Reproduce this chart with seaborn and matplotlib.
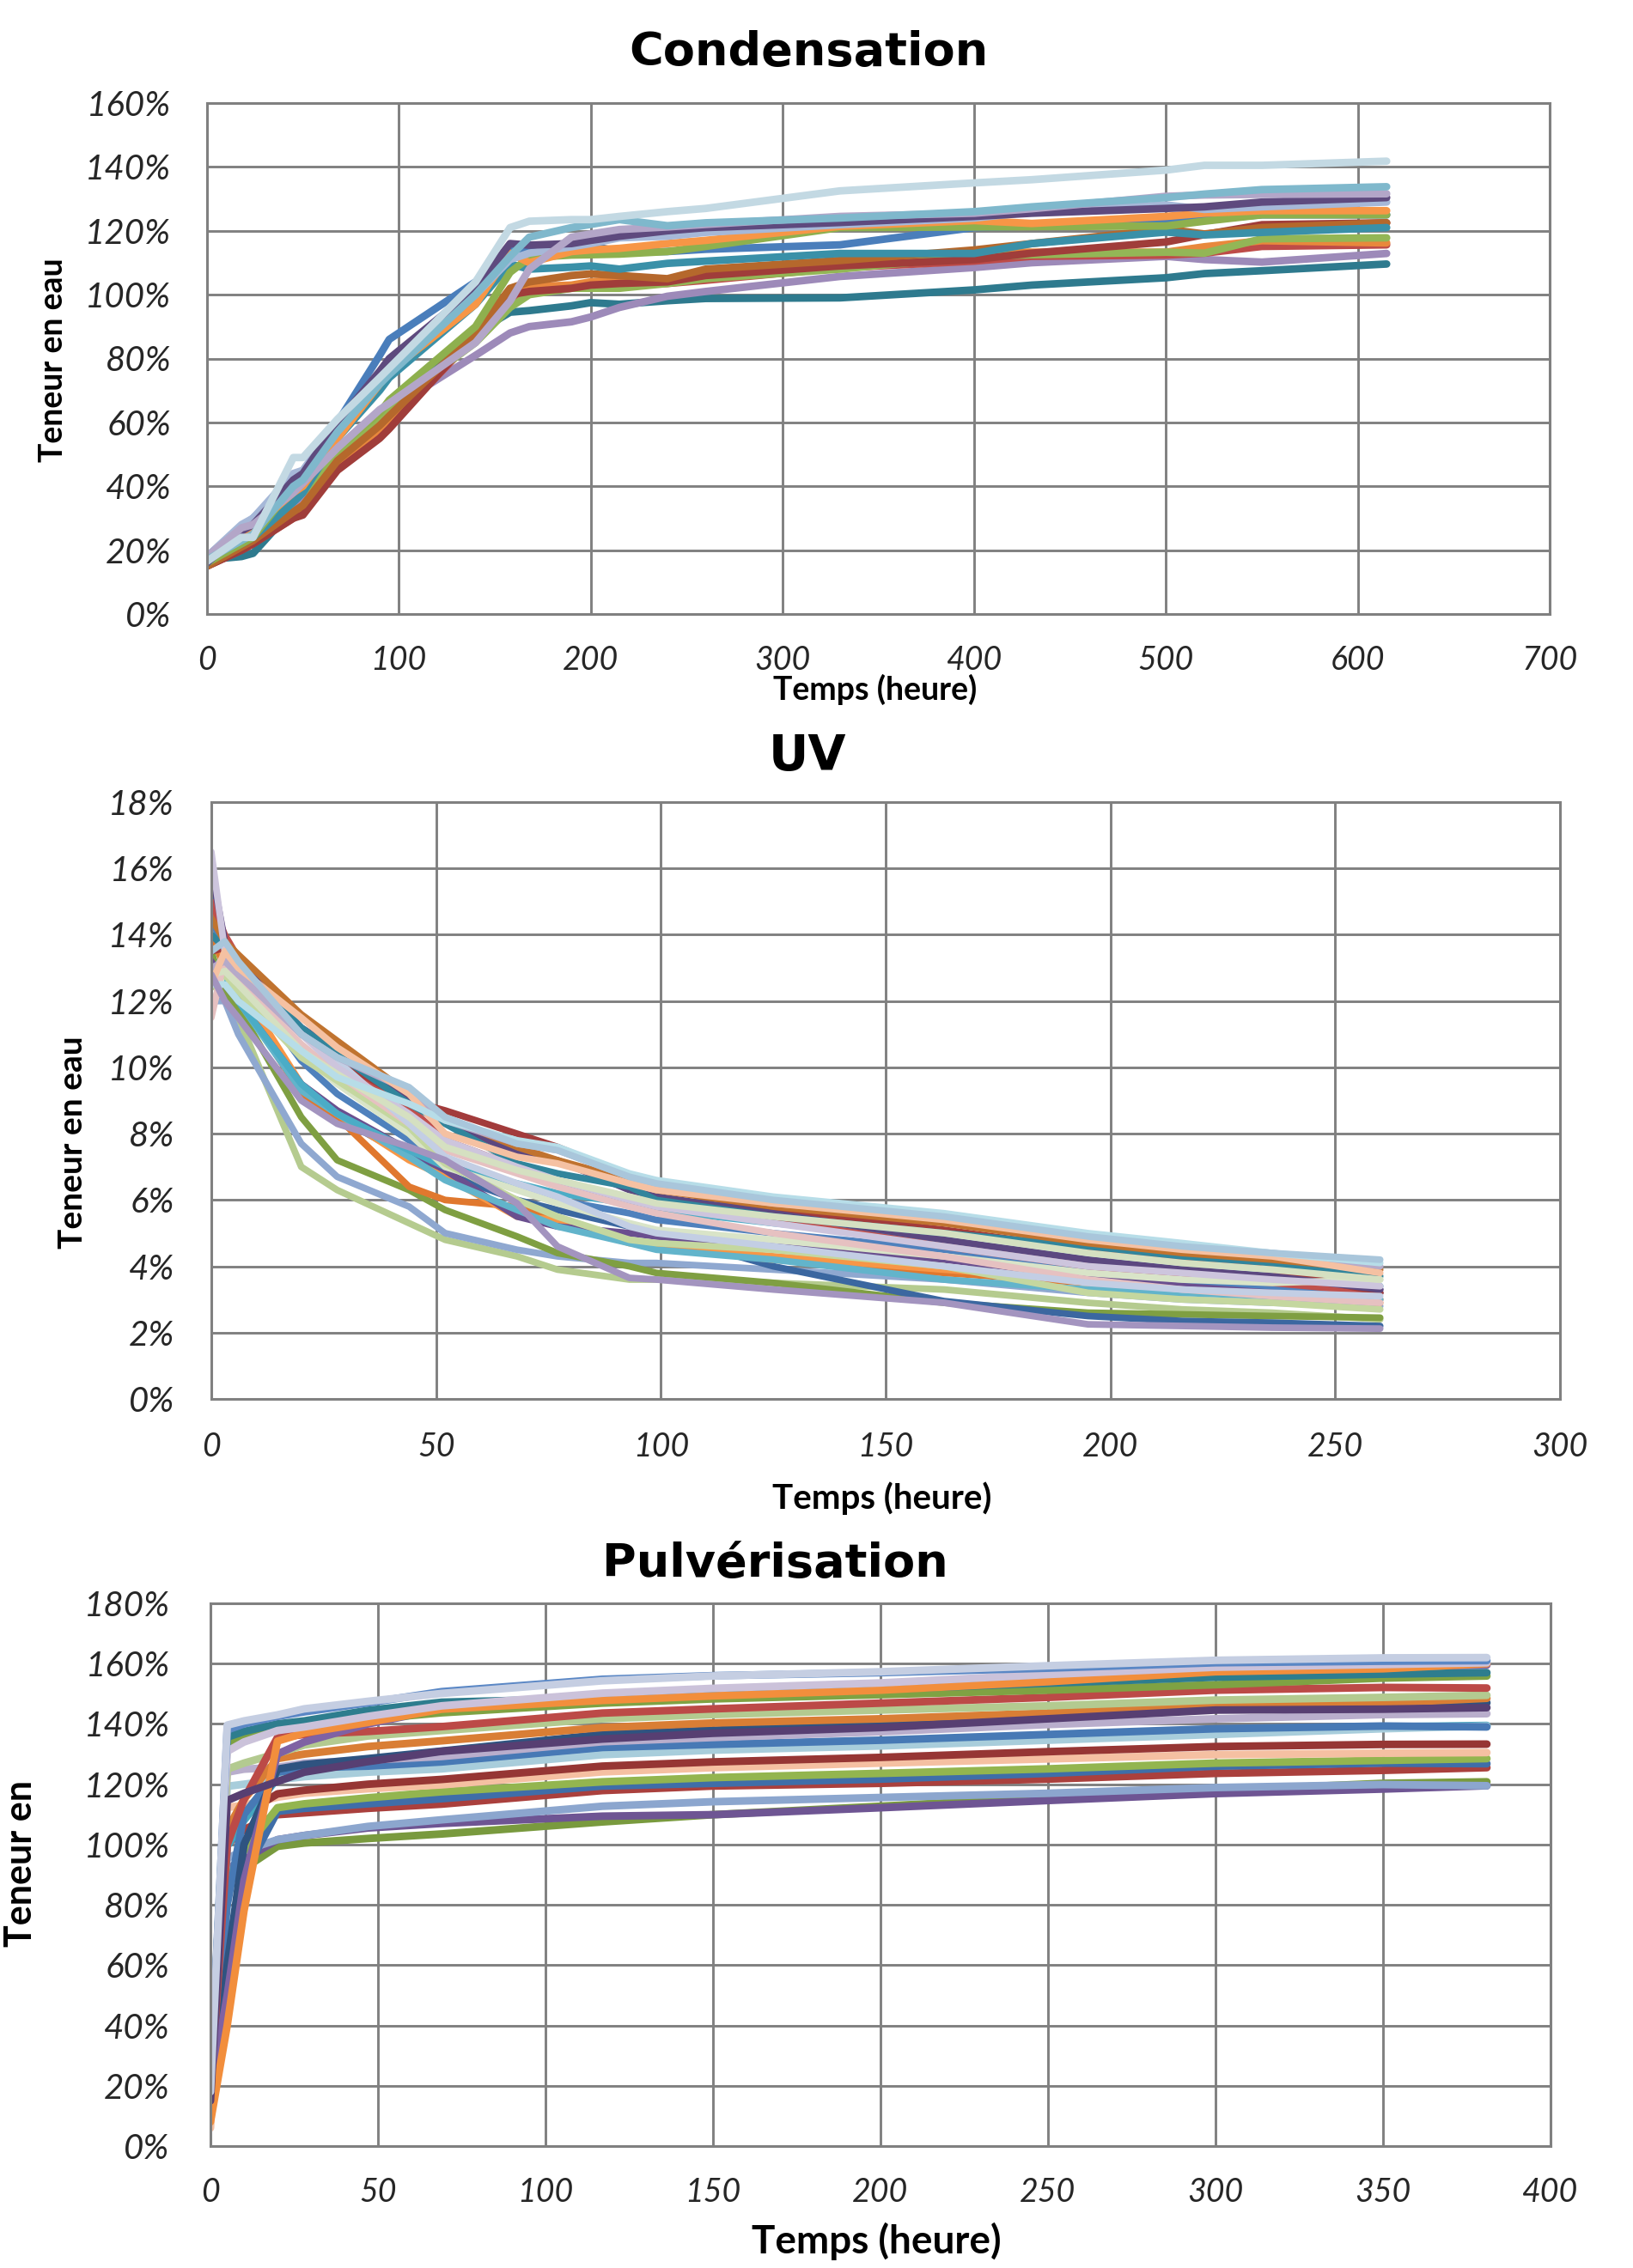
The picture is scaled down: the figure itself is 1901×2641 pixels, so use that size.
import matplotlib
matplotlib.use("Agg")
import matplotlib.pyplot as plt
import seaborn as sns
import pandas as pd

# ---------------- Condensation ----------------
cond_time = [0, 18, 24, 45, 50, 68, 90, 95, 140, 158, 168, 190, 200, 215, 240, 260, 330, 400, 430, 500, 520, 550, 615]
c_blue = [18, 27, 30, 42, 44, 60, 81, 86, 104, 114.7, 114, 114, 115.5, 113.3, 113.5, 114.2, 115.6, 121, 121.5, 122.6, 123.5, 125, 125]
c_darkteal = [17, 18, 19, 33, 36, 50, 62, 65, 88, 94.5, 95, 96.5, 97.5, 97, 98.1, 98.8, 99, 101.5, 103, 105.3, 106.6, 107.5, 109.6]
c_purple = [18, 26, 28, 34, 37, 50, 62, 64, 81, 88, 90, 91.5, 93, 96, 99.5, 101, 105.7, 108.5, 110, 112, 111, 110.2, 112.9]
c_red = [15, 20, 22, 30, 32, 46, 56, 59, 87, 99, 101, 102, 102.5, 103, 103.5, 104.5, 108.4, 110.5, 112, 112.4, 113, 115.1, 115.6]
c_orange2 = [15, 21, 23, 32, 34, 47, 58, 61, 87, 101, 102.5, 103, 104, 104.4, 104, 106, 110.7, 113.3, 113.3, 113.3, 115, 116.9, 116.2]
c_green2 = [16, 22, 25, 36, 38, 50, 62, 65, 85, 96, 100, 102, 102, 102, 103.5, 105, 108, 112, 112.5, 113.3, 113, 117.5, 117.8]
c_darkred = [15, 20, 22, 30, 31, 45, 55, 58, 88, 100, 101, 102, 103, 103.5, 104, 106, 109, 111, 113, 116.5, 118.8, 121.9, 122.5]
c_brown = [15, 21, 23, 32, 34, 48, 59, 62, 88, 102, 104, 106, 106.5, 106, 105, 108, 110.7, 114, 116, 120.5, 119, 121, 122.5]
c_teal = [17, 22, 24, 35, 38, 55, 70, 74, 97, 109.6, 108, 108.6, 109, 108, 109.8, 110.5, 112.9, 112.9, 116, 119.6, 118.7, 119.5, 121]
c_green = [16, 22, 24, 40, 43, 52, 63, 67, 90, 107, 111.6, 112.4, 112.5, 112.7, 113.5, 115.1, 121, 121.2, 121.3, 121.5, 123, 125, 125]
c_orange = [17, 24, 27, 38, 40, 55, 72, 76, 97, 113, 110, 113.5, 114, 114.5, 116, 117, 121.4, 123.2, 122.3, 124.5, 125.5, 126.3, 126.3]
c_paleblue = [18, 28, 30, 44, 45, 60, 74, 78, 100, 111, 113, 115, 116, 117.8, 118.3, 119.5, 121.9, 124, 125.9, 128.1, 126.7, 127.5, 129]
c_darkpurple = [16, 26, 28, 42, 44, 60, 76, 80, 102, 116, 115.5, 116, 117, 118.3, 120, 121, 122.6, 124.5, 125.5, 127, 127.5, 129, 130.4]
c_lavender = [18, 27, 28, 38, 41, 52, 64, 66, 85, 98, 108, 118, 119, 120.4, 121.2, 122, 124.5, 125.5, 126.9, 130.8, 131.2, 131.4, 131.6]
c_aqua = [17, 23, 25, 40, 42, 57, 72, 75, 100, 112, 118, 121, 122, 123.5, 121.6, 122.5, 124, 126, 127.5, 130.4, 131.5, 132.9, 133.8]
c_lightblue = [16.5, 24, 24, 49, 49, 61, 74, 77, 104, 121, 123, 123.5, 123.5, 124.5, 126, 127, 132.5, 135, 136, 139, 140.5, 140.5, 141.8]
cond_colors = ["#4A7EBB", "#2E7A8E", "#9D8AB9", "#BE4B48", "#E8883C", "#93B656", "#A03D3A", "#B5682C",
               "#3A90A8", "#8EB04E", "#F79646", "#A6B8D8", "#5E4A7E", "#B3A6C8", "#7FB8CC", "#C3D9E3"]
cond_xticks = [0, 100, 200, 300, 400, 500, 600, 700]
cond_yticks = [0, 20, 40, 60, 80, 100, 120, 140, 160]

# ---------------- UV ----------------
uv_time = [0, 3, 6, 20, 28, 44, 52, 68, 77, 93, 99, 125, 163, 195, 216, 236, 260]
u_lightgreen = [12.5, 12.2, 11.5, 7.0, 6.3, 5.3, 4.8, 4.3, 3.9, 3.6, 3.6, 3.5, 3.3, 2.9, 2.7, 2.6, 2.4]
u_bluegray = [12.0, 12.0, 11.0, 7.7, 6.7, 5.8, 5.0, 4.5, 4.3, 4.1, 4.1, 3.9, 3.6, 3.2, 3.0, 2.9, 2.8]
u_green = [13.5, 12.2, 11.8, 8.5, 7.2, 6.3, 5.7, 4.9, 4.4, 4.0, 3.8, 3.5, 2.9, 2.6, 2.55, 2.5, 2.45]
u_darkblue = [15.5, 13.0, 12.2, 9.3, 8.5, 7.3, 6.8, 6.0, 5.7, 5.2, 5.0, 4.0, 2.95, 2.5, 2.35, 2.3, 2.2]
u_darkorange = [14.0, 13.0, 12.2, 9.2, 8.5, 6.4, 6.0, 5.8, 5.4, 4.8, 4.6, 4.2, 3.8, 3.5, 3.3, 3.1, 3.0]
u_orange = [14.8, 13.2, 12.5, 9.5, 8.6, 7.2, 6.7, 5.5, 5.4, 4.7, 4.6, 4.3, 3.9, 3.6, 3.5, 3.2, 2.9]
u_purple = [13.2, 12.5, 12.0, 9.5, 8.7, 7.5, 6.9, 5.5, 5.2, 5.0, 4.9, 4.6, 4.2, 3.7, 3.4, 3.3, 3.3]
u_midaqua = [12.5, 12.6, 12.0, 9.3, 8.6, 7.3, 6.6, 5.7, 5.2, 4.7, 4.5, 4.2, 3.6, 3.3, 3.2, 3.1, 3.0]
u_blue = [14.5, 13.5, 12.8, 10.2, 9.2, 7.8, 7.2, 6.4, 6.0, 5.6, 5.4, 5.0, 4.5, 3.9, 3.6, 3.4, 3.2]
u_aqua = [13.0, 12.8, 12.0, 9.5, 8.6, 7.5, 7.0, 6.5, 6.2, 5.9, 5.7, 5.3, 4.8, 4.2, 3.9, 3.7, 3.4]
u_red = [15.0, 14.0, 13.3, 11.0, 10.2, 8.8, 7.8, 7.0, 6.5, 6.0, 5.8, 5.4, 4.6, 4.0, 3.7, 3.5, 3.2]
u_darkred = [13.5, 13.6, 13.0, 11.0, 10.2, 9.0, 8.7, 8.0, 7.6, 6.7, 6.4, 5.7, 5.1, 4.5, 4.2, 3.9, 3.2]
u_darkpurple = [16.0, 13.8, 13.2, 11.2, 10.5, 9.1, 8.4, 7.4, 7.2, 6.3, 6.1, 5.6, 4.8, 4.2, 3.9, 3.7, 3.3]
u_teal = [14.0, 13.6, 13.1, 11.2, 10.4, 8.9, 8.3, 7.1, 6.8, 6.4, 6.0, 5.5, 5.0, 4.6, 4.3, 4.1, 3.7]
u_brown = [14.5, 13.8, 13.4, 11.6, 10.8, 9.2, 8.5, 7.6, 7.2, 6.6, 6.3, 5.8, 5.3, 4.7, 4.4, 4.2, 3.9]
u_palegreen2 = [11.7, 13.0, 12.7, 10.4, 9.5, 8.0, 7.0, 6.3, 5.9, 5.3, 5.1, 4.8, 4.3, 3.8, 3.6, 3.5, 3.6]
u_midgreen = [12.5, 12.8, 12.3, 10.3, 9.6, 8.2, 7.1, 6.0, 5.5, 4.8, 4.7, 4.5, 4.0, 3.2, 3.0, 2.9, 2.7]
u_palepink = [11.5, 13.3, 12.6, 10.7, 9.8, 8.3, 7.5, 6.8, 6.4, 5.8, 5.6, 5.0, 4.3, 3.6, 3.3, 3.1, 2.9]
u_paleblue = [12.8, 13.4, 13.0, 11.0, 10.2, 8.3, 7.3, 6.5, 6.1, 5.2, 5.0, 4.6, 4.0, 3.5, 3.3, 3.2, 3.1]
u_palelavender = [16.5, 13.5, 12.9, 11.0, 10.0, 8.6, 7.8, 7.0, 6.6, 6.0, 5.8, 5.3, 4.6, 4.0, 3.8, 3.6, 3.4]
u_palegreen = [12.8, 12.9, 12.5, 10.5, 9.8, 8.5, 7.6, 6.9, 6.6, 6.1, 5.9, 5.5, 5.0, 4.4, 4.1, 3.9, 3.6]
u_lavender = [13.0, 13.2, 12.8, 11.0, 10.3, 9.3, 8.4, 7.7, 7.5, 6.7, 6.4, 5.9, 5.5, 4.9, 4.6, 4.4, 4.0]
u_peach = [12.5, 13.5, 13.0, 11.5, 10.6, 9.2, 8.0, 7.3, 7.1, 6.5, 6.3, 5.9, 5.4, 4.8, 4.5, 4.3, 3.8]
u_paleaqua = [12.5, 12.5, 12.0, 10.5, 9.7, 8.9, 8.4, 7.8, 7.6, 6.8, 6.6, 6.1, 5.6, 5.0, 4.7, 4.4, 4.1]
u_lightblue = [13.5, 13.8, 13.2, 11.0, 10.3, 9.4, 8.5, 7.7, 7.5, 6.7, 6.5, 6.0, 5.5, 4.9, 4.6, 4.4, 4.2]
u_lightpurple = [12.8, 12.0, 11.5, 9.0, 8.3, 7.6, 7.2, 5.9, 4.6, 3.65, 3.6, 3.3, 2.9, 2.25, 2.2, 2.15, 2.12]
uv_colors = ["#B5CB8F", "#8FA8D0", "#7F9F42", "#3B67A0", "#E0782E", "#F79646", "#6A4F8F", "#62B4CB",
             "#4F81BD", "#4BACC6", "#C0504D", "#A23B3B", "#5C4880", "#31859C", "#C0732F", "#D9E4C8",
             "#C4D79F", "#E6C1C1", "#C3CEE4", "#CDC5DD", "#D5E0C1", "#B5AAC9", "#F5C1A2", "#B7DDE8",
             "#A9C6DB", "#A394BF"]
uv_xticks = [0, 50, 100, 150, 200, 250, 300]
uv_yticks = [0, 2, 4, 6, 8, 10, 12, 14, 16, 18]

# ---------------- Pulvérisation ----------------
pulv_time = [0, 5, 10, 20, 28, 47, 69, 117, 150, 200, 250, 300, 350, 381]
p_olive = [18, 87.8, 92, 99.4, 100.5, 102, 103.5, 107.5, 109.9, 112.7, 115.6, 117.9, 120.3, 120.8]
p_purple = [18, 91.9, 95, 101.6, 103, 105.5, 107, 109.4, 109.9, 112.2, 114.6, 116.9, 118.4, 119.5]
p_bluegray = [18, 95.4, 98, 101.6, 103, 106, 108.2, 112.7, 114.2, 115.6, 117, 118.9, 119.9, 119.5]
p_red2 = [18, 100, 105, 109.9, 110.5, 112, 113.4, 117.9, 119.4, 120.3, 121.7, 123.6, 124.6, 125.5]
p_blue2 = [18, 65, 90, 111, 112, 113.5, 115.2, 119.4, 120.3, 121.7, 123.6, 126, 127, 126.8]
p_green2 = [18, 88, 98, 112.2, 113.5, 115.5, 117.5, 120.8, 122.2, 123.6, 125.1, 127, 127.9, 128.5]
p_peach = [6, 112.3, 113, 115.7, 117, 118.5, 119.8, 124.1, 125.5, 127, 128.4, 129.8, 130.3, 130.5]
p_darkred = [18, 106, 110, 116.8, 118, 120, 121.6, 126, 127.4, 128.9, 130.8, 132.5, 133.2, 133.3]
p_aqua = [18, 99.4, 108, 122, 123, 124.5, 126, 130.5, 132, 133.5, 135.5, 137.5, 139, 139.5]
p_lightblue = [20, 119.3, 120, 121.5, 122.5, 124, 125.1, 129.8, 131.3, 132.7, 134.6, 136.5, 138.4, 139.3]
p_blue = [18, 80, 110, 124, 125.5, 126, 127.4, 132.2, 133.2, 134.6, 136.5, 138.4, 139.3, 139]
p_palelav2 = [22, 124, 125, 125.6, 127, 128, 129.2, 134.1, 135.5, 137.4, 139.8, 141.7, 143.1, 143.4]
p_darkslate = [18, 60, 100, 125, 126.5, 128.5, 131, 136.5, 137.9, 139.8, 142.6, 145.5, 146.2, 147]
p_orange2 = [18, 105, 115, 128.5, 130, 132.5, 134.4, 138.8, 140.3, 141.7, 143.6, 146, 146.9, 148.5]
p_lightgreen = [20, 125, 127, 130.2, 133, 136, 137.8, 141.7, 143.1, 144.6, 146, 147.9, 148.8, 149.5]
p_red = [18, 100, 115, 135.5, 136.5, 137.5, 139.1, 143.6, 145, 146.9, 148.8, 151.2, 152.1, 151.9]
p_purple2 = [18, 50, 88, 130, 134, 140, 145, 149, 151, 153, 155.5, 158, 159, 159.5]
p_green = [20, 133.8, 135.5, 138.4, 139.5, 141.5, 143.7, 146.9, 148.3, 149.7, 151.2, 153, 155.2, 155.9]
p_teal = [18, 135.6, 137.5, 140, 141, 144.5, 147.2, 148.5, 149.5, 151.5, 153.5, 155.5, 156.5, 157]
p_orange = [8, 40, 78, 134.3, 137, 140.5, 144.9, 147.8, 149.3, 151.2, 154, 157.3, 158.3, 160]
p_palelav = [22, 130.9, 134, 137.8, 139, 142.5, 146, 150.2, 151.8, 153.6, 156.4, 158.8, 159.7, 160.3]
p_bluetop = [20, 138, 140, 142.5, 144, 147, 150.7, 154.8, 156, 157, 158.5, 160.3, 160.8, 161]
p_darkpurple = [15, 114.6, 117, 120.9, 124, 127.5, 130.9, 135, 136.9, 138.8, 141.7, 144.6, 144.9, 145.4]
p_bluegraytop = [18, 139.6, 141, 143, 145, 147.5, 150.1, 154.3, 155.9, 157.3, 159.3, 161.1, 161.9, 162]
pulv_colors = ["#799A3E", "#6E5593", "#8CA6CE", "#AA403D", "#3F6EA8", "#93B54F", "#F5C0A2", "#963634",
               "#46A5BF", "#A8CDDB", "#4779B5", "#B9AECC", "#2F5380", "#D97E35", "#B3CA90", "#BC4A47",
               "#7F62A3", "#7FA243", "#2E7D8E", "#F28E3C", "#CBC2DA", "#5A87C5", "#573F72", "#C5CEE2"]
pulv_xticks = [0, 50, 100, 150, 200, 250, 300, 350, 400]
pulv_yticks = [0, 20, 40, 60, 80, 100, 120, 140, 160, 180]

cond_series = [c_blue, c_darkteal, c_purple, c_red, c_orange2, c_green2, c_darkred, c_brown, c_teal,
               c_green, c_orange, c_paleblue, c_darkpurple, c_lavender, c_aqua, c_lightblue]
uv_series = [u_lightgreen, u_bluegray, u_green, u_darkblue, u_darkorange, u_orange, u_purple, u_midaqua,
             u_blue, u_aqua, u_red, u_darkred, u_darkpurple, u_teal, u_brown, u_palegreen2, u_midgreen,
             u_palepink, u_paleblue, u_palelavender, u_palegreen, u_lavender, u_peach, u_paleaqua,
             u_lightblue, u_lightpurple]
pulv_series = [p_olive, p_purple, p_bluegray, p_red2, p_blue2, p_green2, p_peach, p_darkred, p_aqua,
               p_lightblue, p_blue, p_palelav2, p_darkslate, p_orange2, p_lightgreen, p_red, p_purple2,
               p_green, p_teal, p_orange, p_palelav, p_bluetop, p_darkpurple, p_bluegraytop]

# ---------------- figure ----------------
sns.set_theme(style="white")
plt.rcParams["font.family"] = ["DejaVu Sans"]
W, H = 1901, 2641
fig = plt.figure(figsize=(W / 100, H / 100), dpi=100)
fig.patch.set_facecolor("white")
GRID = "#808080"


def make_axes(l, r, t, b):
    return fig.add_axes([l / W, 1 - b / H, (r - l) / W, (b - t) / H])


def panel(ax, times, series, colors, lw, xticks, yticks, ypad, xpad):
    rows = []
    names = []
    for i, vals in enumerate(series):
        name = f"s{i:02d}"
        names.append(name)
        for tt, vv in zip(times, vals):
            rows.append((name, tt, vv))
    df = pd.DataFrame(rows, columns=["serie", "t", "v"])
    sns.lineplot(data=df, x="t", y="v", hue="serie", hue_order=names,
                 palette=dict(zip(names, colors)), estimator=None, legend=False,
                 lw=lw, ax=ax, solid_capstyle="round", solid_joinstyle="round")
    for ln in ax.get_lines():
        ln.set_linewidth(lw)
    ax.set_xlim(xticks[0], xticks[-1])
    ax.set_ylim(yticks[0], yticks[-1])
    ax.set_xticks(xticks)
    ax.set_yticks(yticks)
    ax.set_xticklabels([str(v) for v in xticks], fontsize=27, fontstyle="italic", family=["Lato", "DejaVu Sans"])
    ax.set_yticklabels([f"{v}%" for v in yticks], fontsize=29, fontstyle="italic", family=["Lato", "DejaVu Sans"])
    ax.set_xlabel("")
    ax.set_ylabel("")
    ax.grid(True, color=GRID, linewidth=2.1)
    ax.set_axisbelow(True)
    for s in ax.spines.values():
        s.set_color(GRID)
        s.set_linewidth(2.2)
    ax.tick_params(axis="both", length=0)
    ax.tick_params(axis="y", pad=ypad)
    ax.tick_params(axis="x", pad=xpad)
    ax.set_facecolor("white")


ax1 = make_axes(241, 1804, 120, 715)
panel(ax1, cond_time, cond_series, cond_colors, 6.3, cond_xticks, cond_yticks, 30, 26)
ax2 = make_axes(246, 1816, 934, 1629)
panel(ax2, uv_time, uv_series, uv_colors, 5.6, uv_xticks, uv_yticks, 31, 27)
ax3 = make_axes(245, 1805, 1867, 2499)
panel(ax3, pulv_time, pulv_series, pulv_colors, 6.4, pulv_xticks, pulv_yticks, 34, 26)

bold = dict(fontweight="bold", color="black")
fig.text(941 / W, 1 - 76 / H, "Condensation", ha="center", va="baseline", fontsize=39, family="DejaVu Sans", **bold)
fig.text(940 / W, 1 - 897 / H, "UV", ha="center", va="baseline", fontsize=41, family="DejaVu Sans", **bold)
fig.text(902 / W, 1 - 1836 / H, "Pulvérisation", ha="center", va="baseline", fontsize=39, family="DejaVu Sans", **bold)

fig.text(1019 / W, 1 - 803 / H, "Temps (heure)", ha="center", va="center", fontsize=27, family=["Lato", "DejaVu Sans"], **bold)
fig.text(1027 / W, 1 - 1745 / H, "Temps (heure)", ha="center", va="center", fontsize=29, family=["Lato", "DejaVu Sans"], **bold)
fig.text(1020 / W, 1 - 2610 / H, "Temps (heure)", ha="center", va="center", fontsize=33, family=["Lato", "DejaVu Sans"], **bold)

fig.text(62 / W, 1 - 419 / H, "Teneur en eau", ha="center", va="center", rotation=90, fontsize=27, family=["Lato", "DejaVu Sans"], **bold)
fig.text(84 / W, 1 - 1330 / H, "Teneur en eau", ha="center", va="center", rotation=90, fontsize=28, family=["Lato", "DejaVu Sans"], **bold)
fig.text(24 / W, 1 - 2170 / H, "Teneur en", ha="center", va="center", rotation=90, fontsize=31, family=["Lato", "DejaVu Sans"], **bold)

fig.savefig("out.png", dpi=100, facecolor="white")
